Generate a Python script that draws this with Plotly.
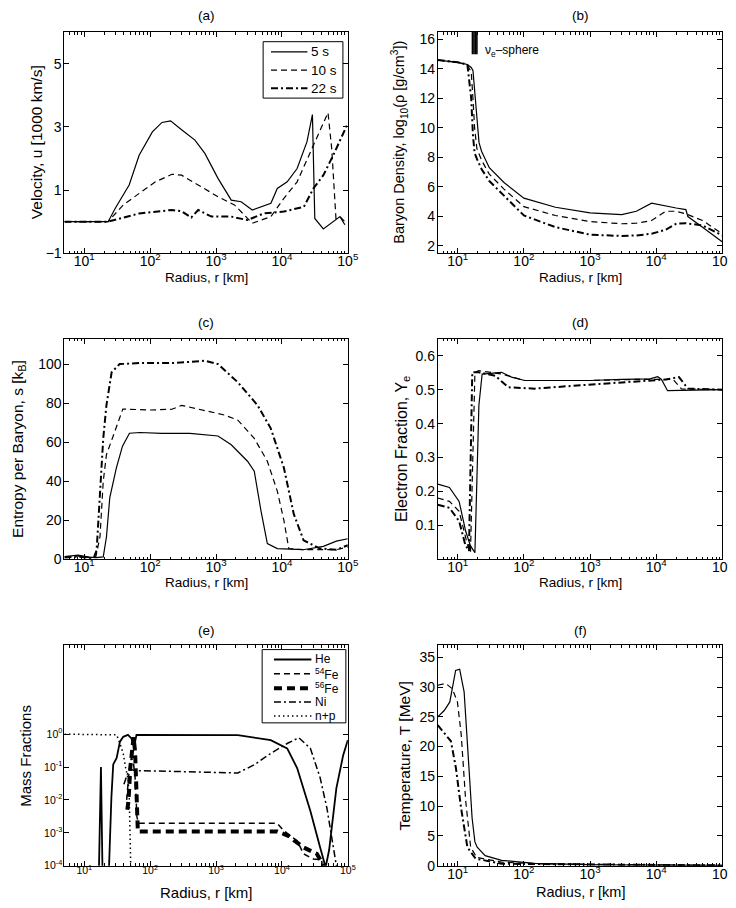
import numpy as np
import plotly.graph_objects as go

FONT = "Liberation Sans, Arial, sans-serif"

# ---------- (a) velocity [1000 km/s]
r_a5 = [5, 23, 30, 48, 68, 108, 151, 204, 303, 478, 676, 1070, 1700, 2400, 3550,
        4800, 6800, 8500, 12000, 17000, 24000, 29000, 31500, 42500, 76000, 90000]
u_5 = [0, 0, 0.45, 1.16, 2.1, 2.84, 3.14, 3.19, 2.9, 2.58, 2.16, 1.37, 0.68, 0.63, 0.37,
       0.47, 0.58, 1.05, 1.26, 1.68, 2.53, 3.39, 0.1, -0.23, 0.16, -0.1]
r_a10 = [5, 23, 39, 68, 120, 214, 300, 535, 1070, 1900, 2850, 3550, 6800, 10700,
         17000, 27000, 38000, 50000, 57000, 66000, 76000, 90000]
u_10 = [0, 0, 0.53, 0.89, 1.26, 1.5, 1.47, 1.16, 0.79, 0.53, 0.16, -0.05, 0.16, 0.74,
        1.26, 2.2, 2.95, 3.45, 2.3, 0.1, 0.16, 0.0]
r_a22 = [5, 23, 68, 214, 300, 420, 535, 850, 1700, 3000, 5300, 10700, 21500, 30000,
         42500, 60000, 97000]
u_22 = [0, 0, 0.26, 0.37, 0.33, 0.13, 0.37, 0.16, 0.16, 0.05, 0.26, 0.32, 0.47, 1.05,
        1.47, 2.1, 3.05]

# ---------- (b) log10 density
r_b5 = [5, 10, 14, 16, 17, 18, 19.5, 21, 23, 30, 50, 100, 300, 1000, 3000, 5000, 8500,
        14000, 20000, 28000, 30000, 50000, 100000]
rho_5 = [14.6, 14.45, 14.3, 14.1, 13.9, 12.5, 10.5, 9.0, 8.4, 7.3, 6.3, 5.24, 4.62, 4.24,
         4.12, 4.35, 4.9, 4.68, 4.57, 4.46, 3.99, 3.27, 2.26]
r_b10 = [5, 10, 14, 16, 17, 18, 19.5, 21, 23, 30, 50, 100, 300, 1000, 3000, 5000, 8500,
         14000, 20000, 28000, 50000, 100000]
rho_10 = [14.6, 14.45, 14.25, 13.8, 12.0, 10.0, 8.6, 8.2, 7.8, 6.86, 5.85, 4.66, 4.06, 3.65,
          3.5, 3.54, 3.72, 4.35, 4.35, 4.17, 3.72, 2.82]
r_b22 = [5, 10, 14, 16, 17, 18, 19.5, 21, 23, 30, 50, 100, 300, 1000, 3000, 5000, 8500,
         14000, 20000, 28000, 50000, 100000]
rho_22 = [14.6, 14.45, 14.3, 12.0, 9.5, 8.3, 7.9, 7.6, 7.2, 6.4, 5.4, 4.06, 3.27, 2.76,
          2.67, 2.71, 2.82, 3.1, 3.5, 3.54, 3.38, 2.71]
nu_r = [16.7, 17.6, 18.5, 19.5]
nu_y = [15.0, 16.5]

# ---------- (c) entropy per baryon [kB]
r_c5 = [5, 8, 12, 15, 19.4, 21.7, 24.4, 30.7, 38, 48.5, 70, 150, 400, 680, 1070, 1700,
        3000, 3800, 4800, 6000, 8500, 21000, 42500, 67000, 100000]
s_5 = [1.5, 2.2, 1.2, 1.0, 1.3, 11.5, 31.7, 46.9, 58, 64.6, 65, 64.5, 64.5, 64, 63.2, 58.7,
       50.3, 45.2, 25, 8.1, 5.6, 5.0, 6.7, 9.4, 10.6]
r_c10 = [5, 8, 12, 15, 17.3, 19.4, 21.7, 27, 38.5, 100, 214, 300, 676, 1350, 2140, 3800,
         6000, 8500, 10700, 12700, 21000, 67000, 100000]
s_10 = [1.2, 1.8, 1.0, 1.5, 11.5, 40, 53.6, 62.9, 77, 76.5, 76.9, 78.9, 76.4, 73.9, 71.3,
        62, 50.3, 35, 20, 5.6, 5, 5, 6.4]
r_c22 = [5, 8, 12, 14, 15.4, 17.3, 19.4, 21.7, 26, 34.4, 68, 214, 676, 1070, 2140, 4270,
         6760, 10700, 15100, 21300, 37800, 67000, 100000]
s_22 = [1.0, 1.5, 0.8, 1.0, 4.7, 36.8, 62, 79, 95.8, 100, 100.5, 100.5, 101.7, 100, 90.7,
        78.9, 67.1, 46.9, 23.3, 9.8, 5.6, 5.0, 7.3]

# ---------- (d) electron fraction Ye
r_d5 = [5, 7.5, 10.5, 13.2, 15.6, 18.2, 20.9, 23.4, 46, 65, 103, 1000, 3000, 8000,
        10500, 12000, 14800, 100000]
ye_5 = [0.222, 0.212, 0.171, 0.083, 0.04, 0.02, 0.454, 0.546, 0.551, 0.537, 0.527, 0.527,
        0.53, 0.532, 0.538, 0.53, 0.497, 0.5]
r_d10 = [5, 7.5, 10.5, 14, 15.6, 18.2, 20.8, 46, 103, 1000, 5000, 10000, 18000, 24000,
         100000]
ye_10 = [0.181, 0.171, 0.142, 0.044, 0.02, 0.551, 0.556, 0.546, 0.527, 0.527, 0.53, 0.53,
         0.53, 0.502, 0.5]
r_d22 = [5, 7.5, 10.5, 13, 14.8, 16.6, 20.8, 37, 58, 145, 1400, 14000, 22000, 30000,
         100000]
ye_22 = [0.161, 0.152, 0.113, 0.044, 0.025, 0.551, 0.551, 0.541, 0.507, 0.503, 0.517,
         0.53, 0.537, 0.503, 0.5]

# ---------- (e) mass fractions
r_he = [16.0, 17.9, 19.5, 22, 25.8, 27.5, 31, 34.8, 39, 46, 52, 57, 62, 100, 1000, 2140,
        6760, 12000, 17000, 27000, 38000, 46000, 52000, 67000, 85000, 100000]
x_he = [1e-6, 0.1, 1e-6, 1e-6, 0.012, 0.12, 0.19, 0.59, 0.83, 0.95, 0.74, 0.42, 0.95, 0.95,
        0.95, 0.93, 0.66, 0.37, 0.093, 0.0046, 3.6e-4, 9e-5, 3e-4, 0.023, 0.23, 0.66]
r_fe54 = [44, 48, 52, 56, 59, 61, 63, 67, 8500, 10700, 17000, 21300, 30000, 40000, 46000]
x_fe54 = [0.01, 0.08, 0.2, 0.12, 0.05, 0.01, 0.003, 0.00195, 0.00195, 0.00115, 5.7e-4,
          2.3e-4, 1.6e-4, 1.5e-4, 1e-5]
r_fe56 = [45, 47, 50, 53, 56, 59, 61, 63, 65, 8500, 12700, 15100, 21300, 33800, 42000, 50000]
x_fe56 = [0.005, 0.01, 0.1, 0.4, 0.8, 0.3, 0.02, 0.0015, 0.0011, 0.0011, 8e-4, 6e-4,
          3.6e-4, 2.3e-4, 1.1e-4, 1e-5]
r_ni = [40, 45, 50, 58, 214, 676, 2140, 3800, 6760, 12000, 18000, 27000, 38000, 48000,
        56000, 67000, 72000]
x_ni = [0.03, 0.06, 0.085, 0.078, 0.074, 0.071, 0.066, 0.117, 0.26, 0.52, 0.78, 0.37, 0.047,
        0.0058, 9e-4, 1e-4, 1e-6]
r_np = [5, 10, 20, 31, 34.8, 39, 42.5, 46, 48, 52]
x_np = [1.0, 0.98, 0.97, 0.95, 0.52, 0.26, 0.093, 0.046, 0.015, 1e-5]

# ---------- (f) temperature [MeV]
r_f5 = [5, 6.3, 7.6, 8.6, 9.3, 10.7, 12.5, 14.8, 16.5, 18.2, 19.7, 26, 46, 145, 1400, 100000]
T_5 = [25, 26.1, 27.5, 31, 32.8, 33, 29.2, 16.4, 8, 4, 3.1, 1.7, 0.9, 0.4, 0.15, 0.05]
r_f10 = [5, 6.6, 8.3, 9.9, 11.3, 13.2, 15.7, 19.4, 46, 145, 100000]
T_10 = [30.3, 30.6, 29.7, 27.5, 22, 10.9, 3.1, 1.4, 0.6, 0.33, 0.05]
r_f22 = [5, 6.3, 7.9, 9.4, 11.2, 14, 18.6, 46, 100000]
T_22 = [23.6, 22.2, 20.9, 16.4, 9.8, 3.1, 1.2, 0.33, 0.05]

W, H = 736, 908


def px(x):
    return x / W


def py(y):
    return 1 - y / H


solid = dict(color="black", width=1.2)
dashed = dict(color="black", width=1.2, dash="6px,4px")
dashdot = dict(color="black", width=2.0, dash="7px,3px,2px,3px")

fig = go.Figure()


def add(x, y, line, n, name=None):
    fig.add_trace(go.Scatter(x=x, y=y, mode="lines", line=line, name=name,
                             showlegend=False, xaxis="x%d" % n, yaxis="y%d" % n,
                             hoverinfo="x+y"))


add(r_a5, u_5, solid, 1, "5 s")
add(r_a10, u_10, dashed, 1, "10 s")
add(r_a22, u_22, dashdot, 1, "22 s")

add(r_b5, rho_5, solid, 2, "5 s")
add(r_b10, rho_10, dashed, 2, "10 s")
add(r_b22, rho_22, dashdot, 2, "22 s")
nx, ny = [], []
for r in nu_r:
    nx += [r, r, None]
    ny += nu_y + [None]
add(nx, ny, dict(color="black", width=1.6), 2, "νe-sphere")

add(r_c5, s_5, solid, 3, "5 s")
add(r_c10, s_10, dashed, 3, "10 s")
add(r_c22, s_22, dashdot, 3, "22 s")

add(r_d5, ye_5, solid, 4, "5 s")
add(r_d10, ye_10, dashed, 4, "10 s")
add(r_d22, ye_22, dashdot, 4, "22 s")

e_styles = {
    "He": dict(color="black", width=1.8),
    "54Fe": dict(color="black", width=1.5, dash="6px,4px"),
    "56Fe": dict(color="black", width=4, dash="8px,5px"),
    "Ni": dict(color="black", width=1.5, dash="7px,3px,2px,3px"),
    "n+p": dict(color="black", width=1.5, dash="1.5px,3px"),
}
add(r_he, x_he, e_styles["He"], 5, "He")
add(r_fe54, x_fe54, e_styles["54Fe"], 5, "54Fe")
add(r_fe56, x_fe56, e_styles["56Fe"], 5, "56Fe")
add(r_ni, x_ni, e_styles["Ni"], 5, "Ni")
add(r_np, x_np, e_styles["n+p"], 5, "n+p")

add(r_f5, T_5, solid, 6, "5 s")
add(r_f10, T_10, dashed, 6, "10 s")
add(r_f22, T_22, dashdot, 6, "22 s")

# ---------- axes
cols = [(57.3, 345.0), (436.3, 725.3)]
rows = [(23.3, 246.7), (333.0, 556.0), (642.7, 865.3)]

xticks = [10, 100, 1000, 10000, 100000]
xtext = ["10<sup>%d</sup>" % i for i in range(1, 6)]
minor_vals = [k * 10 ** d for d in range(0, 5) for k in range(2, 10) if k * 10 ** d >= 5]

base = dict(showline=True, linecolor="black", linewidth=1, mirror="allticks",
            ticks="inside", ticklen=5, tickcolor="black", showgrid=False,
            zeroline=False, ticklabeloverflow="allow")

yspec = {
    1: dict(range=[-1, 6], tickvals=[-1, 1, 3, 5]),
    2: dict(range=[1.5, 16.5], tickvals=list(range(2, 17, 2))),
    3: dict(range=[0, 113], tickvals=[0, 20, 40, 60, 80, 100]),
    4: dict(range=[0, 0.65], tickvals=[0.1, 0.2, 0.3, 0.4, 0.5, 0.6]),
    5: dict(type="log", range=[-4, 2.7], tickvals=[1e-4, 1e-3, 1e-2, 1e-1, 1],
            ticktext=["10<sup>-4</sup>", "10<sup>-3</sup>", "10<sup>-2</sup>",
                      "10<sup>-1</sup>", "10<sup>0</sup>"]),
    6: dict(range=[0, 37], tickvals=[0, 5, 10, 15, 20, 25, 30, 35]),
}

layout = {}
for n in range(1, 7):
    c = cols[(n - 1) % 2]
    rw = rows[(n - 1) // 2]
    tsize = 10.5 if n == 5 else 14
    tf = dict(family=FONT, size=tsize, color="black")
    layout["xaxis%d" % n] = dict(
        base, type="log", range=[np.log10(5), 5], tickvals=xticks, ticktext=xtext,
        domain=[px(c[0]), px(c[1])], anchor="y%d" % n, tickfont=tf,
        ticklabelstandoff=-5,
        minor=dict(tickvals=minor_vals, ticks="inside", ticklen=2.5, tickcolor="black"))
    layout["yaxis%d" % n] = dict(
        base, domain=[py(rw[1]), py(rw[0])], anchor="x%d" % n, tickfont=tf,
        ticklabelstandoff=-1, **yspec[n])

# ---------- text
annotations = []
titles = ["(a)", "(b)", "(c)", "(d)", "(e)", "(f)"]
title_y = [7, 7, 317, 317, 628, 628]
xlab_y = [271, 271, 579, 579, 892, 892]
xlab_size = [13.5, 13.5, 13.5, 13.5, 15, 14.5]
ylabels = ["Velocity, u [1000 km/s]",
           "Baryon Density, log<sub>10</sub>(ρ [g/cm<sup>3</sup>])",
           "Entropy per Baryon, s [k<sub>B</sub>]",
           "Electron Fraction, Y<sub>e</sub>",
           "Mass Fractions",
           "Temperature, T [MeV]"]
ylab_x = [29, 397, 10, 400, 17.5, 403]
ylab_size = [15.5, 14.5, 15.5, 16, 15, 15.5]
for i in range(6):
    c = cols[i % 2]
    rw = rows[i // 2]
    xc = (c[0] + c[1]) / 2
    annotations.append(dict(text=titles[i], x=px(xc), y=py(title_y[i]), xref="paper",
                            yref="paper", showarrow=False, xanchor="center",
                            yanchor="middle", font=dict(family=FONT, size=13.5)))
    annotations.append(dict(text="Radius, r [km]", x=px(xc), y=py(xlab_y[i]), xref="paper",
                            yref="paper", showarrow=False, xanchor="center",
                            yanchor="middle", font=dict(family=FONT, size=xlab_size[i])))
    annotations.append(dict(text=ylabels[i], x=px(ylab_x[i]), y=py((rw[0] + rw[1]) / 2),
                            xref="paper", yref="paper", showarrow=False, textangle=-90,
                            xanchor="center", yanchor="middle",
                            font=dict(family=FONT, size=ylab_size[i])))

annotations.append(dict(text="ν<sub>e</sub>–sphere", x=px(482), y=py(42), xref="paper",
                        yref="paper", showarrow=False, xanchor="left", yanchor="middle",
                        font=dict(family=FONT, size=12, color="black")))

shapes = []


def legend_box(box, line_x, text_x, rows_y, styles, texts, size):
    x0, x1, y0, y1 = box
    shapes.append(dict(type="rect", xref="paper", yref="paper", x0=px(x0), x1=px(x1),
                       y0=py(y1), y1=py(y0), line=dict(color="black", width=1),
                       fillcolor="white", layer="above"))
    for st, txt, yy in zip(styles, texts, rows_y):
        shapes.append(dict(type="line", xref="paper", yref="paper", x0=px(line_x[0]),
                           x1=px(line_x[1]), y0=py(yy), y1=py(yy), line=st,
                           layer="above"))
        annotations.append(dict(text=txt, x=px(text_x), y=py(yy), xref="paper",
                                yref="paper", showarrow=False, xanchor="left",
                                yanchor="middle",
                                font=dict(family=FONT, size=size, color="black")))


# legend of panel (a)
legend_box((259, 340, 33, 90), (267, 304), 306, [43.3, 61.7, 80],
           [solid, dashed, dashdot], ["5 s", "10 s", "22 s"], 13.5)
# legend of panel (e)
e_names = ["He", "54Fe", "56Fe", "Ni", "n+p"]
legend_box((258, 343, 647, 721), (270, 308), 310, [657, 671.5, 686, 700, 714],
           [e_styles[k] for k in e_names],
           ["He", "<sup>54</sup>Fe", "<sup>56</sup>Fe", "Ni", "n+p"], 12)

fig.update_layout(
    width=W, height=H, margin=dict(l=0, r=0, t=0, b=0),
    paper_bgcolor="white", plot_bgcolor="white",
    font=dict(family=FONT, color="black"),
    annotations=annotations, shapes=shapes, showlegend=False,
    **layout)

fig.write_html("out.html")
